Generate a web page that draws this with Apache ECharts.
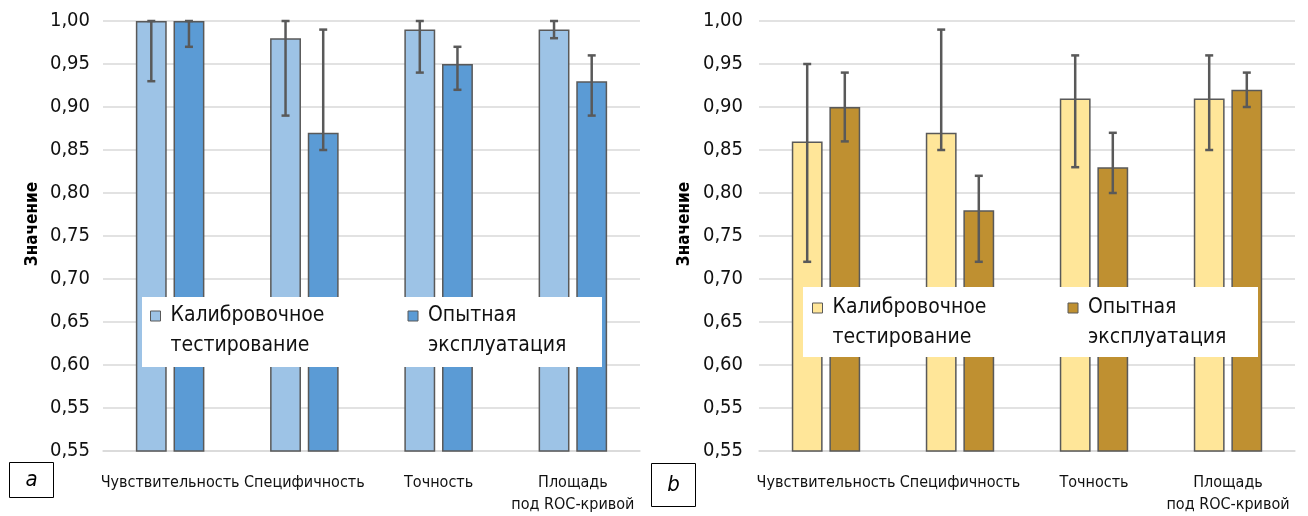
<!DOCTYPE html>
<html>
<head>
<meta charset="utf-8">
<script src="https://cdn.jsdelivr.net/npm/echarts@6/dist/echarts.min.js"></script>
<style>
html, body { margin: 0; padding: 0; background: #fff; }
#chart { width: 1308px; height: 516px; }
</style>
</head>
<body>
<div id="chart"></div>
<script>
// ---------- data ----------
const categories = ['Чувствительность', 'Специфичность', 'Точность', 'Площадь\nпод ROC-кривой'];
const seriesNames = ['Калибровочное\nтестирование', 'Опытная\nэксплуатация'];
const yTickLabels = ['0,55', '0,55', '0,60', '0,65', '0,70', '0,75', '0,80', '0,85', '0,90', '0,95', '1,00'];
const axisTitle = 'Значение';
const panelLabels = ['a', 'b'];

// panel a
const aCalib     = [1.00, 0.98, 0.99, 0.99];
const aCalibLow  = [0.93, 0.89, 0.94, 0.98];
const aCalibHigh = [1.00, 1.00, 1.00, 1.00];
const aTrial     = [1.00, 0.87, 0.95, 0.93];
const aTrialLow  = [0.97, 0.85, 0.92, 0.89];
const aTrialHigh = [1.00, 0.99, 0.97, 0.96];
// panel b
const bCalib     = [0.86, 0.87, 0.91, 0.91];
const bCalibLow  = [0.72, 0.85, 0.83, 0.85];
const bCalibHigh = [0.95, 0.99, 0.96, 0.96];
const bTrial     = [0.90, 0.78, 0.83, 0.92];
const bTrialLow  = [0.86, 0.72, 0.80, 0.90];
const bTrialHigh = [0.94, 0.82, 0.87, 0.94];

// ---------- style ----------
const FONT = "'Liberation Sans Narrow', 'DejaVu Sans Condensed', 'Roboto Condensed', sans-serif";
const Y_MIN = 0.5, Y_MAX = 1.0, Y_STEP = 0.05;
const BAR_W = 0.23, BAR_GAP = 0.22;
const EDGE = '#595959';
const GRIDLINE = '#d9d9d9';
const colorsA = ['#9DC3E6', '#5B9BD5'];
const colorsB = ['#FFE699', '#BF9031'];

const grids = [
  { left: 103, top: 21, width: 537, height: 433 },
  { left: 759, top: 21, width: 536, height: 436 }
];

function xAxisFor(i) {
  return {
    type: 'category', gridIndex: i, data: categories,
    axisTick: { show: false },
    axisLine: { show: true, lineStyle: { color: GRIDLINE, width: 1.5 } },
    axisLabel: { color: '#111', fontSize: 16, fontFamily: FONT, margin: 21, lineHeight: 22, interval: 0 }
  };
}
function yAxisFor(i, gap) {
  return {
    type: 'value', gridIndex: i, min: Y_MIN, max: Y_MAX, interval: Y_STEP,
    axisLine: { show: false }, axisTick: { show: false },
    splitLine: { show: true, lineStyle: { color: GRIDLINE, width: 1.5 } },
    axisLabel: {
      color: '#111', fontSize: 20, fontFamily: FONT, margin: i === 0 ? 13 : 16,
      formatter: v => yTickLabels[Math.round((v - Y_MIN) / Y_STEP)]
    },
    name: axisTitle, nameLocation: 'middle', nameGap: gap,
    nameTextStyle: { color: '#000', fontSize: 17, fontWeight: 'bold', fontFamily: FONT, padding: [0, 0, 0, 24] }
  };
}

function barSeries(name, values, color, gi) {
  return {
    type: 'bar', name: name, xAxisIndex: gi, yAxisIndex: gi,
    data: values, barWidth: (BAR_W * 100) + '%', barGap: (BAR_GAP * 100) + '%',
    itemStyle: { color: color, borderColor: EDGE, borderWidth: 1.5 },
    z: 2
  };
}
function errSeries(low, high, sign, gi) {
  return {
    type: 'custom', xAxisIndex: gi, yAxisIndex: gi, z: 3,
    silent: true,
    data: low.map((l, k) => [k, l, high[k]]),
    encode: { x: 0, y: [1, 2] },
    renderItem: function (params, api) {
      const band = api.size([1, 0])[0];
      const off = sign * band * (BAR_W + BAR_W * BAR_GAP) / 2;
      const pLo = api.coord([api.value(0), api.value(1)]);
      const pHi = api.coord([api.value(0), api.value(2)]);
      const x = pLo[0] + off;
      const cap = 4;
      const st = { stroke: EDGE, lineWidth: 2.5 };
      return {
        type: 'group',
        children: [
          { type: 'line', shape: { x1: x, y1: pLo[1], x2: x, y2: pHi[1] }, style: st },
          { type: 'line', shape: { x1: x - cap, y1: pLo[1], x2: x + cap, y2: pLo[1] }, style: st },
          { type: 'line', shape: { x1: x - cap, y1: pHi[1], x2: x + cap, y2: pHi[1] }, style: st }
        ]
      };
    }
  };
}

function legendFor(colors, left, top, w) {
  return {
    orient: 'horizontal', left: left, top: top, padding: 0, itemGap: 0,
    itemWidth: 10, itemHeight: 10, icon: 'rect', z: 6,
    selectedMode: false,
    formatter: name => '\n' + name,
    data: seriesNames.map((n, k) => ({
      name: n,
      itemStyle: { color: colors[k], borderColor: EDGE, borderWidth: 1 },
      textStyle: { width: k === 0 ? w : 150 }
    })),
    textStyle: { fontSize: 21, fontFamily: FONT, color: '#111', lineHeight: 30, padding: [0, 0, 0, 5] }
  };
}

const option = {
  animation: false,
  backgroundColor: '#fff',
  textStyle: { fontFamily: FONT },
  grid: grids,
  xAxis: [xAxisFor(0), xAxisFor(1)],
  yAxis: [yAxisFor(0, 62), yAxisFor(1, 66)],
  legend: [
    legendFor(colorsA, 150, 271, 237),
    legendFor(colorsB, 812, 263, 235)
  ],
  graphic: [
    { type: 'rect', z: 4, shape: { x: 142, y: 297, width: 460, height: 70 }, style: { fill: '#fff' } },
    { type: 'rect', z: 4, shape: { x: 803, y: 287, width: 455, height: 70 }, style: { fill: '#fff' } },
    { type: 'rect', z: 4, shape: { x: 9.5, y: 462.5, width: 44, height: 35 }, style: { fill: '#fff', stroke: '#000', lineWidth: 1 } },
    { type: 'text', z: 5, x: 31.5, y: 480, style: { text: panelLabels[0], font: "italic 22px " + FONT, fill: '#000', align: 'center', verticalAlign: 'middle' } },
    { type: 'rect', z: 4, shape: { x: 651.5, y: 463.5, width: 44, height: 43 }, style: { fill: '#fff', stroke: '#000', lineWidth: 1 } },
    { type: 'text', z: 5, x: 673.5, y: 485, style: { text: panelLabels[1], font: "italic 22px " + FONT, fill: '#000', align: 'center', verticalAlign: 'middle' } }
  ],
  series: [
    barSeries(seriesNames[0], aCalib, colorsA[0], 0),
    barSeries(seriesNames[1], aTrial, colorsA[1], 0),
    errSeries(aCalibLow, aCalibHigh, -1, 0),
    errSeries(aTrialLow, aTrialHigh, 1, 0),
    barSeries(seriesNames[0], bCalib, colorsB[0], 1),
    barSeries(seriesNames[1], bTrial, colorsB[1], 1),
    errSeries(bCalibLow, bCalibHigh, -1, 1),
    errSeries(bTrialLow, bTrialHigh, 1, 1)
  ]
};

const chart = echarts.init(document.getElementById('chart'), null, { renderer: 'canvas' });
chart.setOption(option);
</script>
</body>
</html>
